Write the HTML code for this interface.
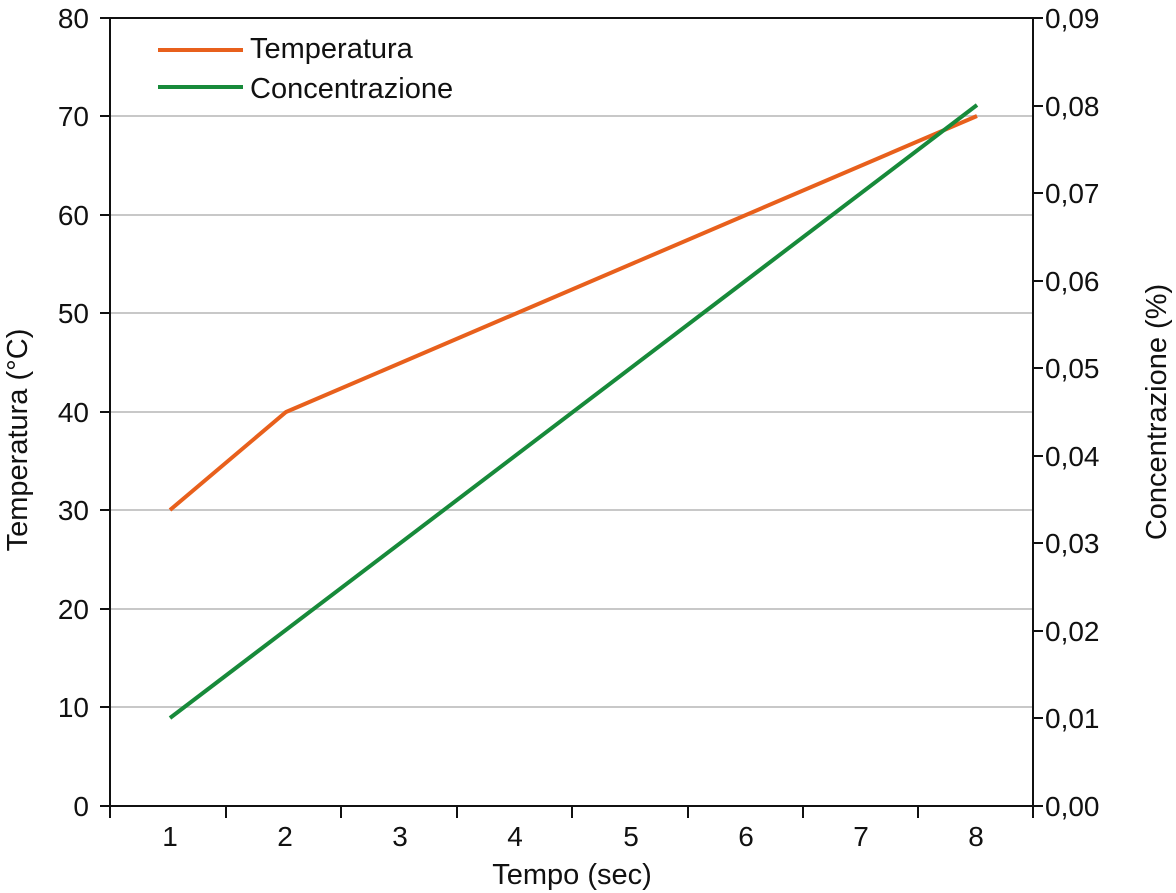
<!DOCTYPE html>
<html><head><style>body{margin:0;background:#fff}svg{display:block}text{font-family:"Liberation Sans",sans-serif;font-size:28px;fill:#111}.t{font-size:29px}</style></head><body>
<svg width="1176" height="893" viewBox="0 0 1176 893">
<g stroke="#c8c8c8" stroke-width="2">
<line x1="110" y1="116" x2="1033" y2="116"/><line x1="110" y1="215" x2="1033" y2="215"/><line x1="110" y1="313" x2="1033" y2="313"/><line x1="110" y1="412" x2="1033" y2="412"/><line x1="110" y1="510" x2="1033" y2="510"/><line x1="110" y1="609" x2="1033" y2="609"/><line x1="110" y1="707" x2="1033" y2="707"/>
</g>
<g stroke="#111" stroke-width="2">
<line x1="110" y1="18" x2="110" y2="807"/><line x1="1033" y1="18" x2="1033" y2="807"/><line x1="109" y1="806" x2="1034" y2="806"/><line x1="100" y1="18" x2="1043" y2="18"/>
<line x1="100" y1="116" x2="110" y2="116"/><line x1="100" y1="215" x2="110" y2="215"/><line x1="100" y1="313" x2="110" y2="313"/><line x1="100" y1="412" x2="110" y2="412"/><line x1="100" y1="510" x2="110" y2="510"/><line x1="100" y1="609" x2="110" y2="609"/><line x1="100" y1="707" x2="110" y2="707"/><line x1="100" y1="806" x2="110" y2="806"/>
<line x1="1033" y1="106" x2="1043" y2="106"/><line x1="1033" y1="193" x2="1043" y2="193"/><line x1="1033" y1="281" x2="1043" y2="281"/><line x1="1033" y1="368" x2="1043" y2="368"/><line x1="1033" y1="456" x2="1043" y2="456"/><line x1="1033" y1="543" x2="1043" y2="543"/><line x1="1033" y1="631" x2="1043" y2="631"/><line x1="1033" y1="718" x2="1043" y2="718"/><line x1="1033" y1="806" x2="1043" y2="806"/>
<line x1="110" y1="806" x2="110" y2="818"/><line x1="226" y1="806" x2="226" y2="818"/><line x1="341" y1="806" x2="341" y2="818"/><line x1="457" y1="806" x2="457" y2="818"/><line x1="572" y1="806" x2="572" y2="818"/><line x1="688" y1="806" x2="688" y2="818"/><line x1="803" y1="806" x2="803" y2="818"/><line x1="918" y1="806" x2="918" y2="818"/><line x1="1033" y1="806" x2="1033" y2="818"/>
</g>
<g text-anchor="end">
<text x="89" y="28">80</text><text x="89" y="126">70</text><text x="89" y="225">60</text><text x="89" y="323">50</text><text x="89" y="422">40</text><text x="89" y="520">30</text><text x="89" y="619">20</text><text x="89" y="717">10</text><text x="89" y="816">0</text>
</g>
<g>
<text x="1045" y="28">0,09</text><text x="1045" y="116">0,08</text><text x="1045" y="203">0,07</text><text x="1045" y="291">0,06</text><text x="1045" y="378">0,05</text><text x="1045" y="466">0,04</text><text x="1045" y="553">0,03</text><text x="1045" y="641">0,02</text><text x="1045" y="728">0,01</text><text x="1045" y="816">0,00</text>
</g>
<g text-anchor="middle">
<text x="170" y="846">1</text><text x="285" y="846">2</text><text x="400" y="846">3</text><text x="515" y="846">4</text><text x="631" y="846">5</text><text x="746" y="846">6</text><text x="861" y="846">7</text><text x="976" y="846">8</text>
<text class="t" x="572" y="884">Tempo (sec)</text>
<text class="t" transform="translate(27,440) rotate(-90)">Temperatura (°C)</text>
<text class="t" transform="translate(1166,412) rotate(-90)">Concentrazione (%)</text>
</g>
<polyline fill="none" stroke="#e8601c" stroke-width="4" points="170,510 286,412 977,116"/>
<polyline fill="none" stroke="#178a3a" stroke-width="4" points="170,718 977,105"/>
<line x1="158" y1="50" x2="243" y2="50" stroke="#e8601c" stroke-width="4"/>
<line x1="158" y1="87" x2="243" y2="87" stroke="#178a3a" stroke-width="4"/>
<text class="t" x="250" y="58">Temperatura</text><text class="t" x="250" y="98">Concentrazione</text>
</svg></body></html>
